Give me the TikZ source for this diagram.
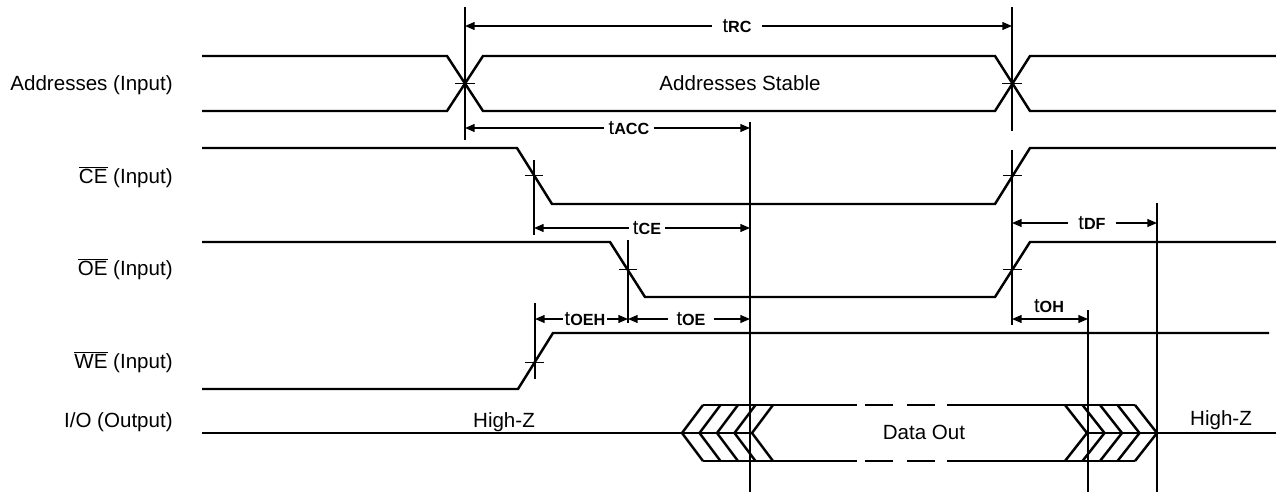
\documentclass[tikz,border=0pt]{standalone}
\usepackage{fontspec}
\setmainfont{Liberation Sans}
\usetikzlibrary{arrows.meta}
\begin{document}
\begin{tikzpicture}[x=0.02cm,y=-0.02cm,
  sig/.style={line width=1.4pt, line join=miter},
  refl/.style={line width=0.7pt},
  tickl/.style={line width=0.5pt},
  dim/.style={line width=0.8pt, {Triangle[length=5.5pt,width=4.5pt]}-{Triangle[length=5.5pt,width=4.5pt]}},
  lbl/.style={font=\fontsize{11.7}{14}\selectfont, anchor=east, inner sep=0pt},
  txt/.style={font=\fontsize{11.7}{14}\selectfont, inner sep=0pt},
  tl/.style={fill=white, inner xsep=2.5pt, inner ysep=1pt},
]
\useasboundingbox (0,0) rectangle (1276,494);
\newcommand{\tlab}[1]{{\fontsize{11.5}{13}\selectfont t}{\fontsize{9.2}{11}\selectfont\bfseries #1}}

% signal labels
\node[lbl] (lA) at (173,85) {Addresses (Input)};
\node[lbl] (lCE) at (173,177) {$\overline{\mbox{CE}}$ (Input)};
\node[lbl] (lOE) at (173,269) {$\overline{\mbox{OE}}$ (Input)};
\node[lbl] (lWE) at (173,362) {$\overline{\mbox{WE}}$ (Input)};
\node[lbl] (lIO) at (173,422) {I/O (Output)};

% Addresses
\draw[sig] (202,56) -- (447,56) -- (483,111) -- (995,111) -- (1030,56) -- (1276,56);
\draw[sig] (202,111) -- (447,111) -- (483,56) -- (995,56) -- (1030,111) -- (1276,111);
\node[txt] (stab) at (740,83) {Addresses Stable};

% CE
\draw[sig] (202,148) -- (517,148) -- (552,204) -- (995,204) -- (1030,148) -- (1276,148);
% OE
\draw[sig] (202,242) -- (610,242) -- (645,297) -- (995,297) -- (1030,242) -- (1276,242);
% WE
\draw[sig] (202,389) -- (518,389) -- (553,333) -- (1269,333);

% I/O
\draw[sig] (202,433) -- (752,433);
\foreach \a in {682,699.5,717,734.5,752}
  \draw[sig] (\a+21,405) -- (\a,433) -- (\a+21,461);
\foreach \yy in {405,461}{
  \draw[sig] (703,\yy) -- (857,\yy);
  \draw[sig] (865,\yy) -- (893,\yy);
  \draw[sig] (907,\yy) -- (935,\yy);
  \draw[sig] (947,\yy) -- (1135,\yy);
}
\foreach \s in {1065,1082.5,1100,1117.5,1135}
  \draw[sig] (\s,405) -- (\s+22,433) -- (\s,461);
\draw[sig] (1087,433) -- (1276,433);
\node[txt] (hz1) at (504,422) {High-Z};
\node[txt] (dout) at (924,432) {Data Out};
\node[txt] (hz2) at (1221,420) {High-Z};

% reference lines
\draw[refl] (465,7) -- (465,140);
\draw[refl] (1012,7) -- (1012,131);
\draw[refl] (1012,150) -- (1012,325);
\draw[refl] (534,160) -- (534,235);
\draw[refl] (628,240) -- (628,323);
\draw[refl] (535,303) -- (535,379);
\draw[refl] (750,122) -- (750,492);
\draw[refl] (1157,203) -- (1157,492);
\draw[refl] (1088,310) -- (1088,492);

% crossing ticks
\draw[tickl] (455,83) -- (475,83);
\draw[tickl] (1002,83) -- (1022,83);
\draw[tickl] (525,175) -- (543,175);
\draw[tickl] (619,269) -- (637,269);
\draw[tickl] (525,362) -- (544,362);
\draw[tickl] (1003,175) -- (1022,175);
\draw[tickl] (1003,269) -- (1022,269);

% dimension arrows
\draw[dim] (465,26) -- (1012,26);
\node[tl, inner xsep=6pt] (tRC) at (737,26) {\tlab{RC}};
\draw[dim] (465,128) -- (750,128);
\node[tl] (tACC) at (629,128) {\tlab{ACC}};
\draw[dim] (534,228) -- (750,228);
\node[tl] (tCE) at (647,228) {\tlab{CE}};
\draw[dim] (1012,223) -- (1157,223);
\node[tl, inner xsep=6pt] (tDF) at (1092,223) {\tlab{DF}};
\draw[dim] (535,319) -- (628,319);
\node[tl, inner xsep=1pt] (tOEH) at (585,319) {\tlab{OEH}};
\draw[dim] (628,319) -- (750,319);
\node[tl, inner xsep=5pt] (tOE) at (691,319) {\tlab{OE}};
\draw[dim] (1012,319) -- (1088,319);
\node[inner sep=0pt] (tOH) at (1049,306) {\tlab{OH}};
\end{tikzpicture}
\end{document}
